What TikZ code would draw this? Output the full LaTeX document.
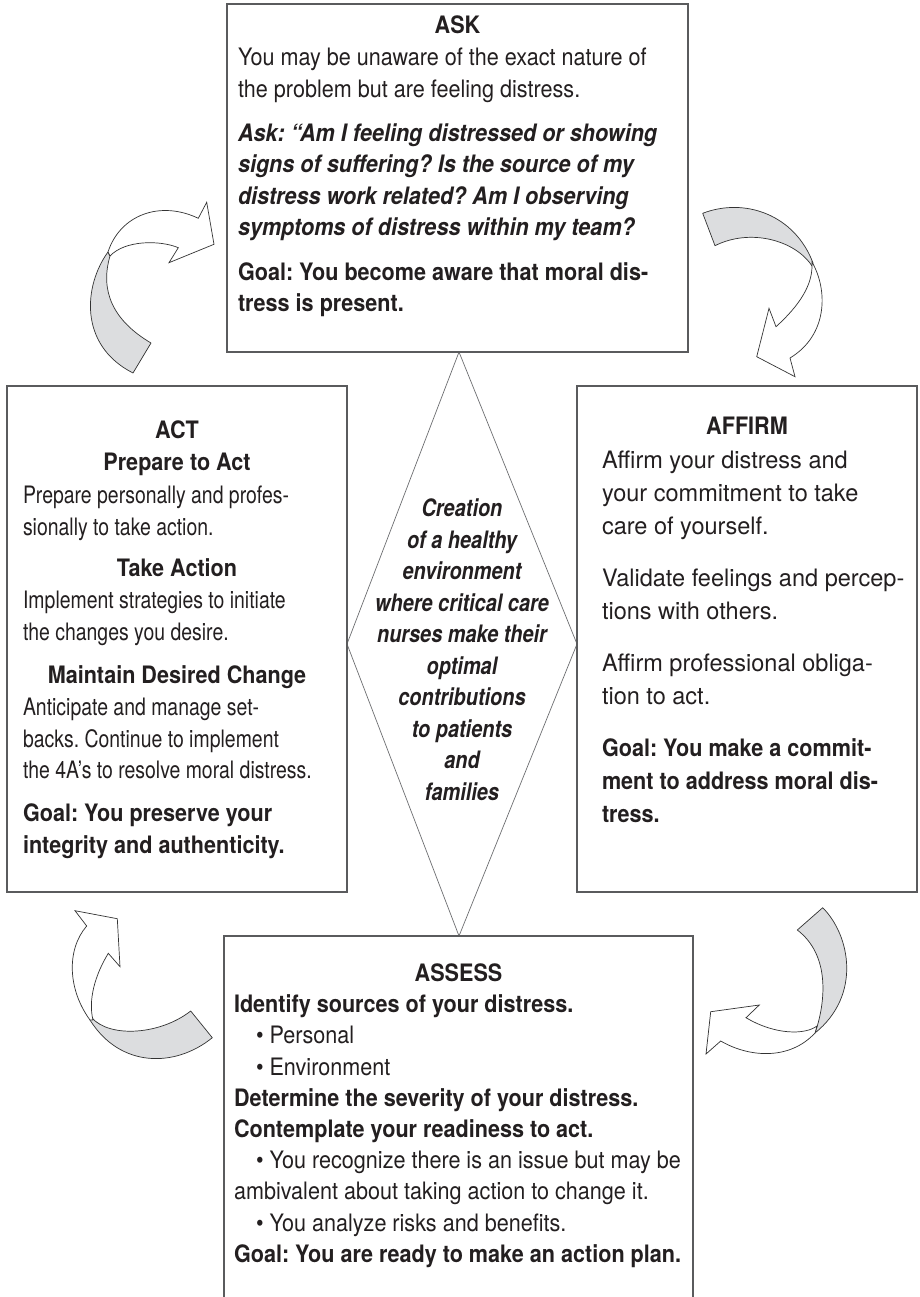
\documentclass[tikz,border=0pt]{standalone}
\usepackage{fontspec}
\setmainfont{TeX Gyre Heros}[FakeStretch=0.9]
\newfontfamily\narrowfam{TeX Gyre Heros}[FakeStretch=0.83]
\newfontfamily\actfam{TeX Gyre Heros}[FakeStretch=0.81]
\newfontfamily\widefam{TeX Gyre Heros}[FakeStretch=0.98]
\definecolor{ink}{HTML}{231F20}
\definecolor{boxgray}{HTML}{5A5B5D}
\definecolor{arrowfill}{HTML}{DCDDDF}
\definecolor{arrowline}{HTML}{333333}
\definecolor{diagray}{HTML}{6D6E71}
\newcommand{\bodyfs}{\fontsize{24}{31.5}\selectfont\frenchspacing}
\newcommand{\affs}{\fontsize{24}{33}\selectfont\frenchspacing}
\newcommand{\firstline}{\rule{0pt}{20pt}}
\newcommand{\bul}{\hspace*{22pt}\textbullet\ }
\frenchspacing
\begin{document}
\begin{tikzpicture}[x=1pt,y=-1pt,
  panel/.style={draw=boxgray, line width=1.3pt, inner sep=0pt, outer sep=0pt},
  openpanel/.style={draw=boxgray, line width=1.3pt},
  txt/.style={inner sep=0pt, outer sep=0pt, text=ink, align=left, font=\bodyfs},
  headtxt/.style={inner sep=0pt, outer sep=0pt, text=ink, align=center, font=\bodyfs\bfseries},
  diamondline/.style={draw=diagray, line width=0.7pt},
  arrowtail/.style={fill=arrowfill, draw=arrowline, line width=0.7pt, line join=round},
  arrowhead/.style={fill=white, draw=arrowline, line width=0.7pt, line join=miter},
]
\useasboundingbox (0,0) rectangle (919,1297);
\fill[white] (0,0) rectangle (919,1297);

% central diamond
\coordinate (dtop) at (459,352);
\coordinate (dright) at (577,644);
\coordinate (dbot) at (459,936);
\coordinate (dleft) at (347,644);
\draw[diamondline] (dtop) -- (dright) -- (dbot) -- (dleft) -- cycle;

% panels
\node[panel, minimum width=461, minimum height=348] (ask) at (457.5,178) {};
\node[panel, minimum width=340, minimum height=506] (act) at (177,639) {};
\node[panel, minimum width=340, minimum height=506] (affirm) at (747,639) {};
\node[inner sep=0pt, outer sep=0pt, minimum width=469, minimum height=384] (assess) at (458.5,1128) {};
\draw[openpanel] (assess.south west) -- (assess.north west) -- (assess.north east) -- (assess.south east);

% ASK text
\node[headtxt, anchor=base] (askhead) at (457.5,33.6) {ASK};
\node[txt, anchor=north west] (askbody) at (238,45.6) {\firstline You may be unaware of the exact nature of\\
the problem but are feeling distress.\\[12.5pt]
\textbf{\textit{Ask: “Am I feeling distressed or showing}}\\
\textbf{\textit{signs of suffering? Is the source of my}}\\
\textbf{\textit{distress work related? Am I observing}}\\
\textbf{\textit{symptoms of distress within my team?}}\\[13pt]
\textbf{Goal: You become aware that moral dis-}\\
\textbf{tress is present.}};

% ACT text
\node[headtxt, anchor=north] (acthead) at (177,418.6) {\firstline ACT\\Prepare to Act};
\node[txt, font=\bodyfs\actfam, anchor=north west] (actbodya) at (23,483.6) {\firstline Prepare personally and profes-\\
sionally to take action.};
\node[headtxt, anchor=base] (acttake) at (177,576.6) {Take Action};
\node[txt, font=\bodyfs\actfam, anchor=north west] (actbodyb) at (23,588.6) {\firstline Implement strategies to initiate\\
the changes you desire.};
\node[headtxt, anchor=base] (actmaint) at (177,683.6) {Maintain Desired Change};
\node[txt, font=\bodyfs\actfam, anchor=north west] (actbodyc) at (23,695.6) {\firstline Anticipate and manage set-\\
backs. Continue to implement\\
the 4A’s to resolve moral distress.\\[11.5pt]
{\normalfont\bodyfs\bfseries Goal: You preserve your}\\
{\normalfont\bodyfs\bfseries integrity and authenticity.}};

% AFFIRM text
\node[headtxt, anchor=base] (affhead) at (747,434.6) {AFFIRM};
\node[txt, font=\affs\widefam, anchor=north west] (affbody) at (602,448.6) {\firstline Affirm your distress and\\
your commitment to take\\
care of yourself.\\[19pt]
Validate feelings and percep-\\
tions with others.\\[19pt]
Affirm professional obliga-\\
tion to act.\\[19pt]
{\normalfont\affs\bfseries Goal: You make a commit-}\\
{\normalfont\affs\bfseries ment to address moral dis-}\\
{\normalfont\affs\bfseries tress.}};

% ASSESS text
\node[headtxt, anchor=base] (asshead) at (458.5,981.6) {ASSESS};
\node[txt, font=\fontsize{24}{31.2}\selectfont\frenchspacing, anchor=north west] (assbody) at (234,992.6) {\firstline\textbf{Identify sources of your distress.}\\
\bul Personal\\
\bul Environment\\
\textbf{Determine the severity of your distress.}\\
\textbf{Contemplate your readiness to act.}\\
\bul You recognize there is an issue but may be\\
ambivalent about taking action to change it.\\
\bul You analyze risks and benefits.\\
\textbf{Goal: You are ready to make an action plan.}};

% diamond text
\node[txt, align=center, font=\fontsize{24}{31.5}\selectfont\narrowfam\bfseries\itshape, anchor=north] (centre) at (462,496.6) {\firstline Creation\\of a healthy\\environment\\where critical care\\nurses make their\\optimal\\contributions\\to patients\\and\\families};

% top-left arrow (ACT -> ASK)
\draw[arrowtail] (108,252) .. controls (84,285) and (78,345) .. (133,373) -- (151,343) .. controls (112,320) and (100,290) .. (110,256) -- cycle;
\draw[arrowhead] (108,252) .. controls (120,215) and (160,200) .. (198.3,218.3) -- (206.7,202.3) -- (214,244.3) -- (169,262.7) -- (178.3,247.7) .. controls (160,240) and (125,240) .. (110,256) -- cycle;

% top-right arrow (ASK -> AFFIRM)
\draw[arrowtail] (702.7,213.3) .. controls (745,197) and (795,215) .. (813,263) -- (812,266) .. controls (795,240) and (750,228) .. (715,245.7) -- cycle;
\draw[arrowhead] (812,262) .. controls (828,290) and (828,335) .. (790,358) -- (795,376.7) -- (756.7,356.7) -- (769,308.3) -- (776,326.7) .. controls (800,305) and (812,285) .. (812,266) -- cycle;

% bottom-right arrow (AFFIRM -> ASSESS)
\draw[arrowtail] (797.3,930) -- (822.7,907.7) .. controls (850,935) and (862,995) .. (815,1033) -- (817,1027) .. controls (825,1000) and (830,955) .. (797.3,930) -- cycle;
\draw[arrowhead] (815,1033) .. controls (790,1060) and (750,1058) .. (720.7,1041) -- (706,1054) -- (710.7,1011.7) -- (759.3,1005) -- (746,1017.7) .. controls (775,1035) and (805,1035) .. (817,1026) -- cycle;

% bottom-left arrow (ASSESS -> ACT)
\draw[arrowtail] (190.7,1011) -- (212.3,1037.7) .. controls (175,1068) and (120,1068) .. (90,1020) -- (92,1018) .. controls (110,1038) and (160,1035) .. (190.7,1011) -- cycle;
\draw[arrowhead] (90,1020) .. controls (68,990) and (66,950) .. (86.7,926) -- (75,910.7) -- (117.3,918.7) -- (120,966.7) -- (108.3,953.3) .. controls (95,975) and (88,1000) .. (93,1020) -- cycle;
\end{tikzpicture}
\end{document}
